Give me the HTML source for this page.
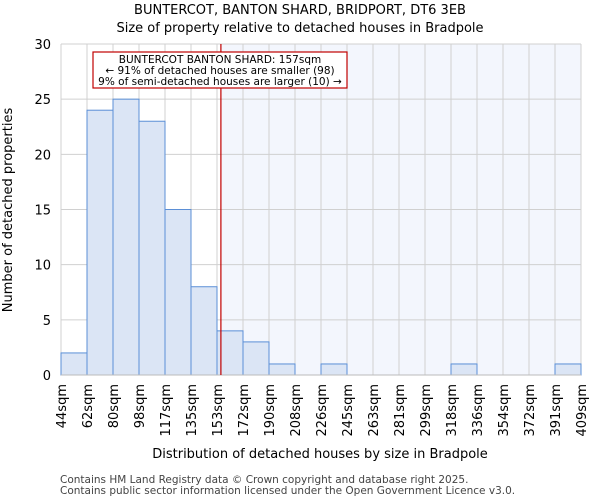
<!DOCTYPE html>
<html><head><meta charset="utf-8"><style>
body{margin:0;background:#fff;font-family:"DejaVu Sans","Liberation Sans",sans-serif}
</style></head><body>
<svg id="chart" width="600" height="500" xmlns="http://www.w3.org/2000/svg" font-family="DejaVu Sans, Liberation Sans, sans-serif">
<text x="300" y="14" text-anchor="middle" font-size="13">BUNTERCOT, BANTON SHARD, BRIDPORT, DT6 3EB</text>
<text x="300" y="32" text-anchor="middle" font-size="13">Size of property relative to detached houses in Bradpole</text>
<g id="plot"></g>
<text x="320" y="458" text-anchor="middle" font-size="13">Distribution of detached houses by size in Bradpole</text>
<text transform="translate(12,210) rotate(-90)" text-anchor="middle" font-size="13">Number of detached properties</text>
<text x="60" y="483" font-size="10.5" fill="#444">Contains HM Land Registry data © Crown copyright and database right 2025.</text>
<text x="60" y="494" font-size="10.5" fill="#444">Contains public sector information licensed under the Open Government Licence v3.0.</text>
</svg>
<script>
const binLabels=["44sqm","62sqm","80sqm","98sqm","117sqm","135sqm","153sqm","172sqm","190sqm","208sqm","226sqm","245sqm","263sqm","281sqm","299sqm","318sqm","336sqm","354sqm","372sqm","391sqm","409sqm"];
const counts=[2,24,25,23,15,8,4,3,1,0,1,0,0,0,0,1,0,0,0,1];
const yTicks=[0,5,10,15,20,25,30];
const markerBinPos=6.15; // 157sqm within bins
const NS="http://www.w3.org/2000/svg";
const L=61,R=581,T=44,B=375,yMax=30;
const bw=(R-L)/counts.length;
const x=i=>L+i*bw, y=v=>B-(B-T)*v/yMax;
const g=document.getElementById('plot');
function mk(t,a,p){const e=document.createElementNS(NS,t);for(const k in a)e.setAttribute(k,a[k]);(p||g).appendChild(e);return e;}
const mx=x(markerBinPos);
let e=mk('rect',{x:mx,y:T,width:R-mx,height:B-T,fill:'#f3f6fd'});


for(let i=0;i<=counts.length;i++){e=mk('line',{x1:x(i),x2:x(i),y1:T,y2:B,stroke:'#d0d0d0'});

}
yTicks.forEach(v=>{e=mk('line',{x1:L,x2:R,y1:y(v),y2:y(v),stroke:'#d0d0d0'});


e=mk('text',{x:L-10,y:y(v)+5,'text-anchor':'end','font-size':13});e.textContent=v;

});
counts.forEach((c,i)=>{if(c<=0)return;e=mk('rect',{x:x(i),y:y(c),width:bw,height:B-y(c),fill:'#dbe5f5',stroke:'#5b8fd6','stroke-width':1});

});
e=mk('line',{x1:L,x2:R,y1:B,y2:B,stroke:'#bbb'});


binLabels.forEach((s,i)=>{e=mk('text',{transform:`translate(${x(i)+5},384) rotate(-90)`,'text-anchor':'end','font-size':13});e.textContent=s;

});
e=mk('line',{x1:mx,x2:mx,y1:T,y2:B,stroke:'#c00000','stroke-width':1.2});


e=mk('rect',{x:93,y:52,width:254,height:36,fill:'#fff',stroke:'#c00000','stroke-width':1.2});


["BUNTERCOT BANTON SHARD: 157sqm","← 91% of detached houses are smaller (98)","9% of semi-detached houses are larger (10) →"].forEach((s,i)=>{e=mk('text',{x:220,y:63+i*11,'text-anchor':'middle','font-size':10.5});e.textContent=s;

});
</script>
</body></html>
